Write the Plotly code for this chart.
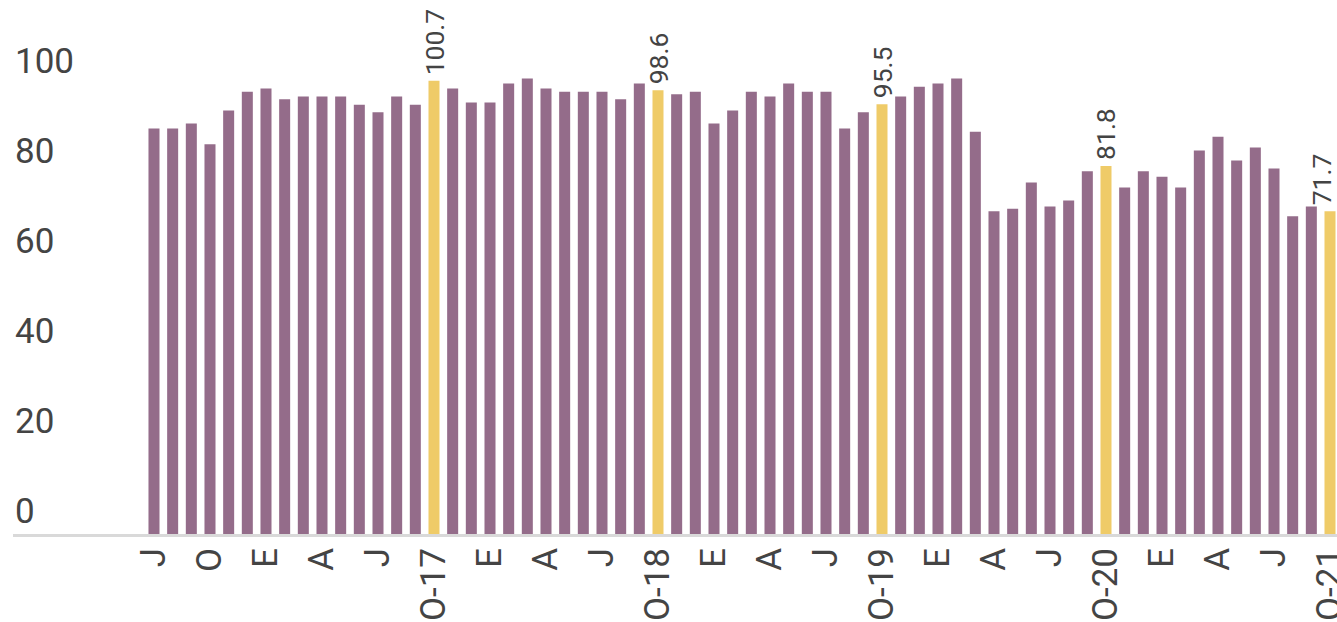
import plotly.graph_objects as go

# Monthly values Jul-16 .. Oct-21 (64 months)
values = [
    90.1, 90.1, 91.2, 86.6, 94.1, 98.3, 99.0, 96.6, 97.2, 97.2, 97.2, 95.4,
    93.7, 97.2, 95.4, 100.7, 99.0, 95.9, 95.9, 100.1, 101.2, 99.0, 98.3, 98.3,
    98.3, 96.6, 100.1, 98.6, 97.7, 98.3, 91.2, 94.1, 98.3, 97.2, 100.1, 98.3,
    98.3, 90.1, 93.7, 95.5, 97.2, 99.4, 100.1, 101.2, 89.4, 71.7, 72.3, 78.1,
    72.8, 74.1, 80.6, 81.8, 77.0, 80.6, 79.4, 77.0, 85.2, 88.3, 83.0, 85.9,
    81.2, 70.6, 72.8, 71.7,
]
highlight_idx = [15, 27, 39, 51, 63]
tick_idx = [0, 3, 6, 9, 12, 15, 18, 21, 24, 27, 30, 33, 36, 39, 42, 45, 48, 51, 54, 57, 60, 63]
tick_text = ["J", "O", "E", "A", "J", "O-17", "E", "A", "J", "O-18", "E", "A", "J", "O-19",
             "E", "A", "J", "O-20", "E", "A", "J", "O-21"]
y_ticks = [0, 20, 40, 60, 80, 100]

PURPLE = "#946C8A"
YELLOW = "#EFCB68"
TEXT = "#444444"
FONT = "Roboto"

x = list(range(len(values)))
colors = [YELLOW if i in highlight_idx else PURPLE for i in x]

fig = go.Figure()
fig.add_trace(go.Bar(
    x=x, y=values, marker=dict(color=colors, line=dict(width=0)),
    width=0.59, cliponaxis=False, hoverinfo="x+y",
))

# value labels on highlighted (October) bars
for i in highlight_idx:
    fig.add_annotation(
        x=i, y=values[i], xref="x", yref="y", text=f"{values[i]:.1f}",
        textangle=-90, xanchor="center", yanchor="bottom", yshift=4,
        xshift=-9 if i == len(values) - 1 else 0,
        showarrow=False, font=dict(family=FONT, size=26.5, color=TEXT),
    )

# y-axis labels, placed above their tick positions
for v in y_ticks:
    fig.add_annotation(
        x=0, xref="paper", y=v, yref="y", text=str(v),
        xanchor="left", yanchor="middle", yshift=23, showarrow=False,
        font=dict(family=FONT, size=35, color=TEXT),
    )

fig.update_layout(
    width=1337, height=622,
    margin=dict(l=13, r=0, t=39, b=88, autoexpand=False),
    paper_bgcolor="white", plot_bgcolor="white",
    showlegend=False,
    xaxis=dict(
        range=[-7.553, 63.375], automargin=False,
        tickmode="array", tickvals=tick_idx, ticktext=tick_text,
        tickangle=-90, tickfont=dict(family=FONT, size=35, color=TEXT),
        ticklabeloverflow="allow",
        showgrid=False, zeroline=False,
        showline=True, linecolor="#D9D9D9", linewidth=3,
        ticks="", ticklabelstandoff=-3,
    ),
    yaxis=dict(
        range=[0, 110], automargin=False, showgrid=False, zeroline=False,
        showticklabels=False, showline=False, ticks="",
    ),
)

fig.write_html("out.html", config={"displayModeBar": False},
               post_script="document.body.style.margin='0';")
